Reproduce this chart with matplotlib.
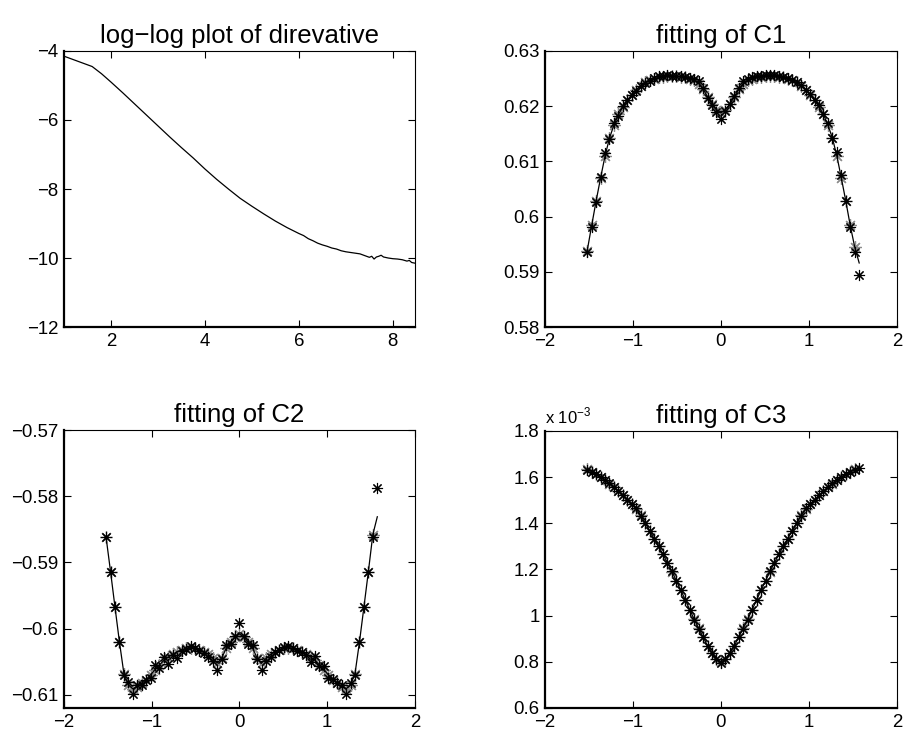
import matplotlib
matplotlib.use('Agg')
import matplotlib.pyplot as plt
from matplotlib.ticker import FuncFormatter

plt.rcParams['font.family'] = ['Liberation Sans', 'DejaVu Sans']

# log-log plot of derivative
loglog_x = [1.0, 1.6, 1.8, 2.0, 2.25, 2.5, 2.75, 3.0, 3.25, 3.5, 3.75, 4.0, 4.25, 4.5, 4.75,
            5.0, 5.25, 5.5, 5.75, 6.0, 6.1, 6.2, 6.3, 6.4, 6.5, 6.6, 6.7, 6.8, 6.9, 7.0,
            7.1, 7.2, 7.3, 7.4, 7.5, 7.55, 7.6, 7.65, 7.7, 7.75, 7.8, 7.9, 8.0, 8.1, 8.2,
            8.3, 8.35, 8.4, 8.47]
loglog_y = [-4.15, -4.45, -4.66, -4.90, -5.21, -5.53, -5.85, -6.17, -6.49, -6.80, -7.10, -7.42,
            -7.72, -8.00, -8.27, -8.50, -8.72, -8.93, -9.12, -9.29, -9.35, -9.44, -9.50, -9.57,
            -9.62, -9.66, -9.71, -9.74, -9.79, -9.82, -9.84, -9.86, -9.88, -9.93, -9.98, -9.95,
            -10.03, -9.97, -9.95, -9.92, -9.97, -10.00, -10.02, -10.03, -10.05, -10.09, -10.07,
            -10.13, -10.15]

# sample angles (shared by the three fittings)
theta = [-1.520, -1.469, -1.419, -1.368, -1.317, -1.267, -1.216, -1.165, -1.115, -1.064,
         -1.013, -0.963, -0.912, -0.861, -0.811, -0.760, -0.709, -0.659, -0.608, -0.557,
         -0.507, -0.456, -0.405, -0.355, -0.304, -0.253, -0.203, -0.152, -0.101, -0.051,
         0.000, 0.051, 0.101, 0.152, 0.203, 0.253, 0.304, 0.355, 0.405, 0.456,
         0.507, 0.557, 0.608, 0.659, 0.709, 0.760, 0.811, 0.861, 0.912, 0.963,
         1.013, 1.064, 1.115, 1.165, 1.216, 1.267, 1.317, 1.368, 1.419, 1.469,
         1.520, 1.571]

c1_data = [0.5936, 0.5981, 0.6027, 0.6072, 0.6115, 0.6141, 0.6170, 0.6182, 0.6200, 0.6212,
           0.6221, 0.6228, 0.6237, 0.6242, 0.6246, 0.6251, 0.6254, 0.6255, 0.6256, 0.6255,
           0.6255, 0.6254, 0.6253, 0.6251, 0.6249, 0.6245, 0.6233, 0.6215, 0.6202, 0.6190,
           0.6176, 0.6192, 0.6204, 0.6218, 0.6233, 0.6245, 0.6250, 0.6252, 0.6254, 0.6255,
           0.6256, 0.6256, 0.6256, 0.6255, 0.6253, 0.6251, 0.6248, 0.6243, 0.6238, 0.6230,
           0.6222, 0.6212, 0.6202, 0.6185, 0.6170, 0.6143, 0.6117, 0.6075, 0.6028, 0.5981,
           0.5936, 0.5894]
c1_fit = [0.5938, 0.5984, 0.6028, 0.6070, 0.6110, 0.6142, 0.6166, 0.6185, 0.6199, 0.6211,
          0.6221, 0.6230, 0.6237, 0.6243, 0.6247, 0.6250, 0.6252, 0.6253, 0.6254, 0.6254,
          0.6254, 0.6253, 0.6252, 0.6250, 0.6247, 0.6241, 0.6231, 0.6217, 0.6204, 0.6194,
          0.6188, 0.6194, 0.6204, 0.6217, 0.6231, 0.6241, 0.6247, 0.6250, 0.6252, 0.6253,
          0.6254, 0.6254, 0.6254, 0.6253, 0.6252, 0.6250, 0.6247, 0.6243, 0.6237, 0.6230,
          0.6221, 0.6211, 0.6199, 0.6185, 0.6166, 0.6142, 0.6110, 0.6070, 0.6028, 0.5984,
          0.5945, 0.5916]

c2_data = [-0.5862, -0.5914, -0.5967, -0.6020, -0.6070, -0.6081, -0.6099, -0.6086, -0.6085, -0.6077,
           -0.6074, -0.6055, -0.6060, -0.6043, -0.6054, -0.6040, -0.6045, -0.6034, -0.6031, -0.6027,
           -0.6029, -0.6034, -0.6037, -0.6043, -0.6049, -0.6063, -0.6046, -0.6025, -0.6024, -0.6011,
           -0.5992, -0.6011, -0.6024, -0.6025, -0.6046, -0.6063, -0.6049, -0.6043, -0.6036, -0.6033,
           -0.6028, -0.6027, -0.6030, -0.6034, -0.6036, -0.6040, -0.6050, -0.6042, -0.6056, -0.6057,
           -0.6074, -0.6076, -0.6083, -0.6086, -0.6099, -0.6082, -0.6070, -0.6020, -0.5967, -0.5914,
           -0.5862, -0.5788]
c2_fit = [-0.5862, -0.5914, -0.5967, -0.6020, -0.6068, -0.6085, -0.6091, -0.6088, -0.6083, -0.6077,
          -0.6070, -0.6062, -0.6055, -0.6048, -0.6043, -0.6039, -0.6035, -0.6032, -0.6030, -0.6029,
          -0.6030, -0.6032, -0.6035, -0.6039, -0.6045, -0.6052, -0.6045, -0.6030, -0.6021, -0.6013,
          -0.6008, -0.6013, -0.6021, -0.6030, -0.6045, -0.6052, -0.6045, -0.6039, -0.6035, -0.6032,
          -0.6030, -0.6029, -0.6030, -0.6032, -0.6035, -0.6039, -0.6043, -0.6048, -0.6055, -0.6062,
          -0.6070, -0.6077, -0.6083, -0.6088, -0.6091, -0.6085, -0.6068, -0.6020, -0.5967, -0.5914,
          -0.5858, -0.5831]

# C3 in units of 1e-3
c3_data = [1.633, 1.623, 1.612, 1.600, 1.587, 1.573, 1.557, 1.540, 1.522, 1.503,
           1.483, 1.465, 1.433, 1.400, 1.367, 1.334, 1.301, 1.267, 1.230, 1.192,
           1.152, 1.110, 1.067, 1.025, 0.983, 0.944, 0.906, 0.868, 0.836, 0.810,
           0.796, 0.810, 0.836, 0.868, 0.906, 0.944, 0.983, 1.025, 1.067, 1.110,
           1.152, 1.192, 1.230, 1.267, 1.301, 1.334, 1.367, 1.400, 1.433, 1.465,
           1.483, 1.503, 1.522, 1.540, 1.557, 1.573, 1.587, 1.600, 1.612, 1.623,
           1.633, 1.640]
c3_fit = [1.635, 1.624, 1.612, 1.600, 1.586, 1.572, 1.556, 1.539, 1.521, 1.502,
          1.484, 1.462, 1.434, 1.401, 1.368, 1.334, 1.300, 1.266, 1.229, 1.191,
          1.151, 1.110, 1.068, 1.026, 0.984, 0.945, 0.907, 0.870, 0.838, 0.812,
          0.800, 0.812, 0.838, 0.870, 0.907, 0.945, 0.984, 1.026, 1.068, 1.110,
          1.151, 1.191, 1.229, 1.266, 1.300, 1.334, 1.368, 1.401, 1.434, 1.462,
          1.484, 1.502, 1.521, 1.539, 1.556, 1.572, 1.586, 1.600, 1.612, 1.624,
          1.635, 1.641]

ASTER = (8, 2, 0)


def matlab_fmt(v, pos):
    return ('%g' % round(v, 6)).replace('-', '\u2212')


def style_axes(ax, title):
    ax.set_title(title, fontsize=18.5, pad=6)
    ax.tick_params(direction='in', length=5, width=0.8, labelsize=13.4,
                   top=True, right=True, pad=4)
    for side in ['left', 'bottom']:
        ax.spines[side].set_linewidth(1.6)
    for side in ['top', 'right']:
        ax.spines[side].set_linewidth(0.8)
    ax.yaxis.set_major_formatter(FuncFormatter(matlab_fmt))
    ax.xaxis.set_major_formatter(FuncFormatter(matlab_fmt))


def draw_fit(ax, data, fit):
    # grey marks on the fitted curve (last sample has none)
    ax.plot(theta[:-1], fit[:-1], linestyle='none', marker=ASTER, markersize=9,
            markeredgewidth=0.9, color='#8c8c8c')
    ax.plot(theta, fit, '-', color='black', linewidth=0.9)
    ax.plot(theta, data, linestyle='none', marker=ASTER, markersize=8,
            markeredgewidth=0.8, color='black')
    ax.set_xlim(-2, 2)
    ax.set_xticks([-2, -1, 0, 1, 2])


fig = plt.figure(figsize=(9.06, 7.38), dpi=100)
ax1 = fig.add_axes([0.0706, 0.5569, 0.3874, 0.3740])
ax2 = fig.add_axes([0.6015, 0.5569, 0.3885, 0.3740])
ax3 = fig.add_axes([0.0706, 0.0407, 0.3874, 0.3765])
ax4 = fig.add_axes([0.6015, 0.0407, 0.3885, 0.3753])

ax1.plot(loglog_x, loglog_y, '-', color='black', linewidth=0.9)
ax1.set_xlim(1, 8.47)
ax1.set_ylim(-12, -4)
ax1.set_xticks([2, 4, 6, 8])
ax1.set_yticks([-12, -10, -8, -6, -4])
style_axes(ax1, 'log\u2212log plot of direvative')

draw_fit(ax2, c1_data, c1_fit)
ax2.set_ylim(0.58, 0.63)
ax2.set_yticks([0.58, 0.59, 0.60, 0.61, 0.62, 0.63])
style_axes(ax2, 'fitting of C1')

draw_fit(ax3, c2_data, c2_fit)
ax3.set_ylim(-0.612, -0.57)
ax3.set_yticks([-0.61, -0.60, -0.59, -0.58, -0.57])
style_axes(ax3, 'fitting of C2')

draw_fit(ax4, c3_data, c3_fit)
ax4.set_ylim(0.6, 1.8)
ax4.set_yticks([0.6, 0.8, 1.0, 1.2, 1.4, 1.6, 1.8])
style_axes(ax4, 'fitting of C3')
ax4.text(0.0, 1.015, 'x 10$^{\\mathregular{\u22123}}$', transform=ax4.transAxes,
         fontsize=12, ha='left', va='bottom')

plt.savefig('out.png', dpi=100)
plt.close(fig)
